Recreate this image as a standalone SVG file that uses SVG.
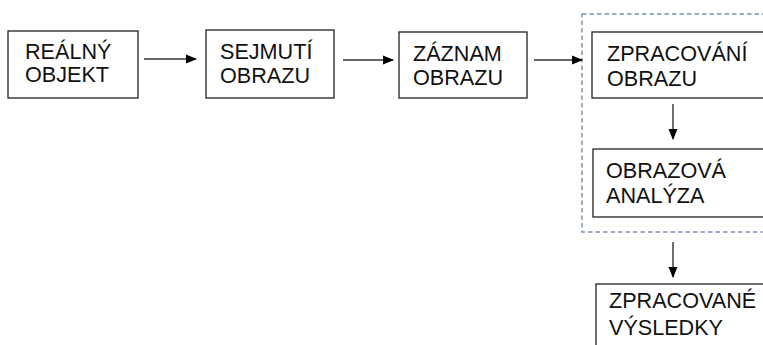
<svg xmlns="http://www.w3.org/2000/svg" width="763" height="345" viewBox="0 0 763 345">
<style>
.box{fill:#fff;stroke:#222;stroke-width:1.3}
.t{font-family:"Liberation Sans",Arial,sans-serif;font-size:21.6px;fill:#111}
.ln{stroke:#333;stroke-width:1.4;fill:none}
.grp{fill:none;stroke:#7e92b0;stroke-width:1.5;stroke-dasharray:4.5 3}
</style>
<defs>
<marker id="ah" markerWidth="11" markerHeight="11" refX="10" refY="5.5" orient="auto" markerUnits="userSpaceOnUse">
<path d="M0,1 L11,5.5 L0,10 Z" fill="#000"/>
</marker>
</defs>
<rect width="763" height="345" fill="#fff"/>
<g id="group-processing">
<rect class="grp" x="582" y="14" width="200" height="218"/>
</g>
<g id="n1">
<rect class="box" x="8" y="31" width="130" height="67"/>
<text class="t" x="25" y="59">REÁLNÝ</text>
<text class="t" x="25" y="82">OBJEKT</text>
</g>
<g id="n2">
<rect class="box" x="206" y="30" width="128" height="68"/>
<text class="t" x="220" y="58.5">SEJMUTÍ</text>
<text class="t" x="220" y="82.5">OBRAZU</text>
</g>
<g id="n3">
<rect class="box" x="399" y="32" width="128" height="66"/>
<text class="t" x="413" y="60.5">ZÁZNAM</text>
<text class="t" x="413" y="85">OBRAZU</text>
</g>
<g id="n4">
<rect class="box" x="592" y="32" width="190" height="66"/>
<text class="t" x="607" y="61">ZPRACOVÁNÍ</text>
<text class="t" x="607" y="85.5">OBRAZU</text>
</g>
<g id="n5">
<rect class="box" x="593" y="149" width="190" height="68"/>
<text class="t" x="606" y="178">OBRAZOVÁ</text>
<text class="t" x="606" y="203">ANALÝZA</text>
</g>
<g id="n6">
<rect class="box" x="596" y="284" width="190" height="80"/>
<text class="t" x="609" y="308">ZPRACOVANÉ</text>
<text class="t" x="609" y="335">VÝSLEDKY</text>
</g>
<g id="connectors">
<line class="ln" x1="144" y1="59" x2="196" y2="59" marker-end="url(#ah)"/>
<line class="ln" x1="343" y1="60" x2="393" y2="60" marker-end="url(#ah)"/>
<line class="ln" x1="534" y1="60" x2="582" y2="60" marker-end="url(#ah)"/>
<line class="ln" x1="673" y1="104" x2="673" y2="139" marker-end="url(#ah)"/>
<line class="ln" x1="673" y1="242" x2="673" y2="277" marker-end="url(#ah)"/>
</g>
</svg>
